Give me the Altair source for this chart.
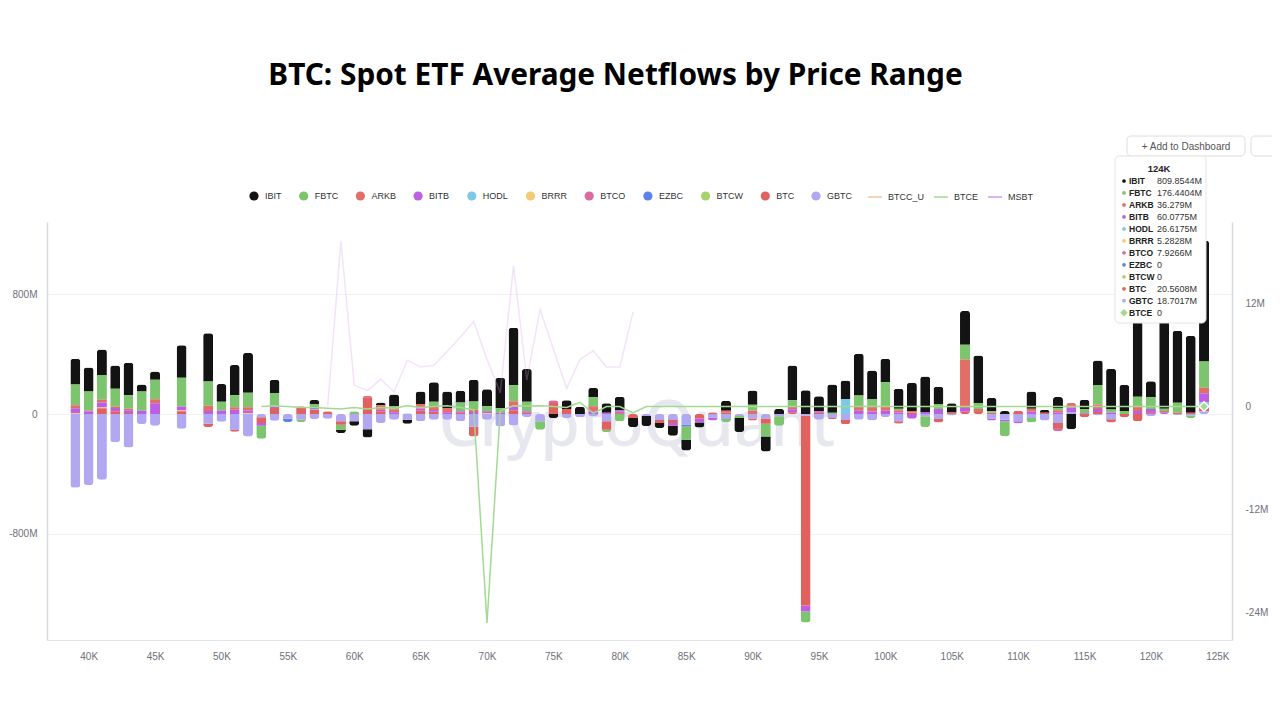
import altair as alt
import pandas as pd

# ---------------- data (values in millions USD, price bins in K) ----------------
PRICES = list(range(39, 125))

SERIES = ["IBIT", "FBTC", "ARKB", "BITB", "HODL", "BRRR", "BTCO", "EZBC", "BTCW", "BTC", "GBTC"]
COLORS = ["#131313", "#7cc46d", "#e26f67", "#bd5fe3", "#7cc8e6", "#f1cc72",
          "#da6b9e", "#5a84ec", "#a7d36f", "#e0625f", "#b2a8f2"]

IBIT = [173, 161, 170, 155, 218, 47, 56, 0, 217, 0,
        323, 119, 202, 266, 0, 90, 0, 0, 27, 0,
        -22, -29, -56, 20, 78, -27, 83, 130, 111, 78,
        146, 114, 203, 385, 219, 0, -27, 58, 48, 63,
        65, 90, -60, -67, -34, -67, -72, -34, 0, 67,
        -94, 96, -101, 34, 233, 159, 101, 190, 123, 280,
        190, 157, 134, 190, 242, 114, 63, 226, 318, 90,
        20, 0, 116, 20, 74, -101, 63, 163, 273, 175,
        650, 108, 770, 482, 515, 809.8544]
FBTC = [139, 128, 166, 121, 90, 128, 130, 0, 193, 0,
        161, 58, 81, 97, -87, 87, 0, -16, 22, 0,
        -34, 18, 0, 0, 20, 0, 0, 31, 0, 60,
        55, 34, 31, 107, 65, -56, 0, 0, 0, 60,
        -16, -49, 0, 0, 0, 0, -90, 0, 0, -20,
        -13, 40, -85, -63, 45, -74, 0, 8, 0, 72,
        54, 166, 10, 0, -72, 34, 0, 99, 40, 10,
        -101, 0, -29, 0, 15, 0, 27, 132, 20, 20,
        67, 78, 15, 67, -16, 176.4404]
ARKB = [20, 5, 18, 9, 11, 0, 27, 0, 0, 0,
        36, 0, 16, 22, 0, 0, 0, 0, 0, 0,
        0, 0, 0, 30, 20, 0, 30, 25, 28, 0,
        15, 0, 0, 35, 0, 0, 0, 0, 0, 34,
        0, 0, 0, 0, 0, 0, 0, 0, 0, 12,
        0, 22, 0, 0, 15, 0, 0, 0, 0, 30,
        30, 25, 15, 10, 0, 0, 10, 325, 20, 8,
        0, 0, 20, 0, 15, 30, 0, 30, 0, 0,
        29, 0, 10, 8, 0, 36.279]
BITB = [31, 18, 34, 22, 18, 22, 72, 0, 27, 0,
        20, 24, 29, 18, -18, 13, 0, 0, 11, 0,
        0, 0, 0, 10, 12, 0, 15, 12, 12, 10,
        14, 12, 8, 25, 10, 0, 0, 0, 0, 18,
        8, 10, 0, 0, 0, -18, 0, -26, -18, 0,
        0, 0, 0, 0, 20, -40, 10, 0, 0, 22,
        17, 22, 10, -31, 10, 34, 0, 25, 0, -13,
        -10, -14, 15, 0, 10, 30, 5, 20, 10, 0,
        20, 20, 10, 0, 0, 60.0775]
BTC = [0, 0, 38, 18, 7, 0, 0, 0, 18, 0,
       -22, 0, -13, 0, -38, 40, 0, 52, 29, 18,
       -22, 0, 112, 18, 0, 0, 22, 15, 0, 8,
       -67, 0, 0, 25, 8, 0, 74, 34, 0, 0,
       -56, 0, -27, 0, -20, -20, 0, -30, 12, 10,
       0, -14, -35, 0, 12, -1270, 8, -8, -29, 0,
       0, 0, -16, 10, 0, -22, 0, 15, 14, 0,
       0, 22, 0, 8, -34, 0, -22, 13, -21, -22,
       -49, 0, 0, 0, 8, 20.5608]
GBTC = [-493, -475, -440, -188, -224, -67, -79, 0, -99, 0,
        -65, -52, -106, -150, -22, -45, -31, -38, -34, -31,
        -49, -49, -101, -60, -38, -38, -49, -38, -38, -49,
        -83, -38, -83, -76, -20, -49, 0, -27, -22, -16,
        -49, 0, 0, -13, -40, -40, -72, 0, -25, -34,
        -13, -30, -30, -15, 0, -11, -38, -27, -40, -38,
        -43, -20, -49, 0, -15, -34, -10, 0, 0, -30,
        -38, -49, -27, -43, -60, 14, 0, -10, -35, 0,
        0, -15, 0, -8, -10, 18.7017]
# sparse series: {price bin: value}
HODL = {57: 5, 64: 5, 97: 101, 124: 26.6175}
BRRR = {39: 7, 41: 6, 47: 5, 52: 6, 70: 6, 124: 5.2828}
BTCO = {61: 10, 75: 18, 80: 15, 113: -22, 120: 14, 124: 7.9266}
EZBC = {55: -22, 85: -10}
BTCW = {}

# line series (right axis, millions)
LINE_NAMES = ["BTCC_U", "BTCE", "MSBT"]
LINE_COLORS = ["#f5c49b", "#a3d993", "#d49ae9"]
BTCE_PRICES = list(range(53, 125))
BTCE = [0, 0.05, 0, -0.1, -0.1, -0.2, -0.3, -0.1, -0.3, -0.1,
        -0.2, 0.1, -0.1, 0, 0.1, -0.1, -0.4, -25.2, -0.5, 0.1,
        0.05, 0.1, 0, -0.1, 0.5, -0.8, 0, 0, -0.75, 0,
        0, 0, 0, 0, 0, 0, 0, 0, 0, 0,
        0, 0, 0, 0, 0, 0, 0, 0, 0, 0,
        0, 0, 0, 0, 0, 0, 0, 0, 0, 0,
        0, 0, 0, 0, 0, 0, 0, 0, 0, 0,
        0, 0]
MSBT_PRICES = list(range(58, 82))
MSBT = [0.0, 19.3, 2.5, 1.85, 3.2, 1.7, 5.4, 4.6, 4.8, 6.4, 8.1, 9.9,
        5.5, 1.6, 16.4, 3.1, 11.3, 6.7, 2.1, 5.5, 6.5, 4.6, 4.6, 11.0]

TIP_LABEL = "124K"
TIP_TEXT = ["809.8544M", "176.4404M", "36.279M", "60.0775M", "26.6175M", "5.2828M",
            "7.9266M", "0", "0", "20.5608M", "18.7017M", "0"]

FONT = "Liberation Sans"
TITLE_FONT = "Noto Sans"

# ---------------- tables ----------------
rows = []
dense = {"IBIT": IBIT, "FBTC": FBTC, "ARKB": ARKB, "BITB": BITB, "BTC": BTC, "GBTC": GBTC}
sparse = {"HODL": HODL, "BRRR": BRRR, "BTCO": BTCO, "EZBC": EZBC, "BTCW": BTCW}
for i, s in enumerate(SERIES):
    ordv = len(SERIES) - 1 - i
    if s in dense:
        pairs = zip(PRICES, dense[s])
    else:
        pairs = sparse[s].items()
    for p, v in pairs:
        if v != 0:
            rows.append({"price": p, "series": s, "value": v, "ord": ordv})
bar_df = pd.DataFrame(rows)

line_rows = [{"price": p, "series": "BTCE", "val": v} for p, v in zip(BTCE_PRICES, BTCE)]
line_rows += [{"price": p, "series": "MSBT", "val": v} for p, v in zip(MSBT_PRICES, MSBT)]
line_df = pd.DataFrame(line_rows)
pt_df = pd.DataFrame([{"price": BTCE_PRICES[-1], "val": BTCE[-1]}])

tip_names = SERIES + ["BTCE"]
tip_cols = COLORS + [LINE_COLORS[1]]
tip_df = pd.DataFrame({
    "row": list(range(len(tip_names))),
    "name": tip_names,
    "txt": TIP_TEXT,
    "col": tip_cols,
    "shp": ["circle"] * len(SERIES) + ["diamond"],
    "sz": [14] * len(SERIES) + [55],
})

# ---------------- scales / axes ----------------
x_enc = alt.X("price:Q",
              scale=alt.Scale(domain=[37.24, 125.73], nice=False, zero=False),
              axis=alt.Axis(values=list(range(40, 126, 5)), labelExpr="datum.value + 'K'",
                            title=None, ticks=False, grid=False, domainColor="#e3e3ea",
                            labelColor="#6e7079", labelFontSize=10, labelFont=FONT,
                            labelPadding=11))
RIGHT_DOMAIN = [-27.2, 21.5]

watermark = alt.Chart(pd.DataFrame({"t": ["CryptoQuant"]})).mark_text(
    fontSize=64, font=TITLE_FONT, color="#e7e7ef", fontWeight=500
).encode(text="t:N", x=alt.value(590), y=alt.value(205))

bars = alt.Chart(bar_df).mark_bar(size=10, cornerRadius=3).encode(
    x=x_enc,
    y=alt.Y("value:Q", stack="zero",
            scale=alt.Scale(domain=[-1512, 1285], nice=False, zero=False),
            axis=alt.Axis(values=[-800, 0, 800],
                          labelExpr="datum.value == 0 ? '0' : datum.value + 'M'",
                          title=None, ticks=False, grid=True, gridColor="#f2f2f6",
                          domainColor="#d9d9e4", domainWidth=1.5, labelColor="#6e7079",
                          labelFontSize=10, labelFont=FONT, labelPadding=10)),
    color=alt.Color("series:N", scale=alt.Scale(domain=SERIES, range=COLORS),
                    legend=alt.Legend(title=None, orient="none", legendX=202, legendY=-31,
                                      direction="horizontal", symbolType="circle",
                                      symbolSize=85, symbolStrokeWidth=0, labelFontSize=9,
                                      labelFont=FONT, labelColor="#333333", labelOffset=6,
                                      columnPadding=16.7, padding=0)),
    order=alt.Order("ord:Q", sort="ascending"),
)

lines = alt.Chart(line_df).mark_line(strokeWidth=1.5).encode(
    x=x_enc,
    y=alt.Y("val:Q", scale=alt.Scale(domain=RIGHT_DOMAIN, nice=False, zero=False),
            axis=alt.Axis(orient="right", values=[-24, -12, 0, 12],
                          labelExpr="datum.value == 0 ? '0' : datum.value + 'M'",
                          title=None, ticks=False, grid=False, domainColor="#d9d9e4",
                          domainWidth=1.5, labelColor="#6e7079", labelFontSize=10,
                          labelFont=FONT, labelPadding=13)),
    stroke=alt.Stroke("series:N", scale=alt.Scale(domain=LINE_NAMES, range=LINE_COLORS),
                      legend=alt.Legend(title=None, orient="none", legendX=820, legendY=-33,
                                        direction="horizontal", symbolType="stroke",
                                        symbolSize=196, symbolStrokeWidth=1.5,
                                        symbolOpacity=1, labelFontSize=9, labelFont=FONT,
                                        labelColor="#333333", labelOffset=5,
                                        columnPadding=6, padding=0)),
    strokeOpacity=alt.condition("datum.series == 'MSBT'", alt.value(0.28), alt.value(1)),
)

hover_pt = alt.Chart(pt_df).mark_point(shape="diamond", filled=True, size=90,
                                       color=LINE_COLORS[1], stroke="white",
                                       strokeWidth=1.5, opacity=1).encode(
    x=x_enc,
    y=alt.Y("val:Q", scale=alt.Scale(domain=RIGHT_DOMAIN, nice=False, zero=False), axis=None),
)

# dashboard buttons (partly hidden by the tooltip)
btn = alt.Chart(pd.DataFrame({"a": [0]})).mark_rect(
    fill="white", stroke="#dcdcdc", cornerRadius=4).encode(
    x=alt.value(1080), x2=alt.value(1198), y=alt.value(-86), y2=alt.value(-66))
btn2 = alt.Chart(pd.DataFrame({"a": [0]})).mark_rect(
    fill="white", stroke="#dcdcdc", cornerRadius=4).encode(
    x=alt.value(1204), x2=alt.value(1228), y=alt.value(-86), y2=alt.value(-66))
btn_txt = alt.Chart(pd.DataFrame({"t": ["+  Add to Dashboard"]})).mark_text(
    fontSize=10, font=FONT, color="#555555").encode(
    text="t:N", x=alt.value(1139), y=alt.value(-75))

# tooltip
tip_box = alt.Chart(pd.DataFrame({"a": [0]})).mark_rect(
    fill="white", stroke="#e4e4e4", cornerRadius=4).encode(
    x=alt.value(1068), x2=alt.value(1159), y=alt.value(-66), y2=alt.value(101))
tip_head = alt.Chart(pd.DataFrame({"t": [TIP_LABEL]})).mark_text(
    fontSize=9.5, font=FONT, fontWeight="bold", color="#222222").encode(
    text="t:N", x=alt.value(1112), y=alt.value(-53))
row_y = alt.Y("row:Q", scale=alt.Scale(domain=[0, 11], range=[-41, 90.7]), axis=None)
tip_dot = alt.Chart(tip_df).mark_point(filled=True, opacity=1).encode(
    x=alt.value(1077), y=row_y,
    color=alt.Color("col:N", scale=None),
    shape=alt.Shape("shp:N", scale=None),
    size=alt.Size("sz:Q", scale=None))
tip_name = alt.Chart(tip_df).mark_text(
    align="left", fontSize=8.5, font=FONT, fontWeight="bold", color="#222222").encode(
    text="name:N", x=alt.value(1082), y=row_y)
tip_val = alt.Chart(tip_df).mark_text(
    align="left", fontSize=9, font=FONT, color="#333333").encode(
    text="txt:N", x=alt.value(1110), y=row_y)

chart = alt.layer(
    watermark, bars, lines, hover_pt, btn, btn2, btn_txt, tip_box, tip_head, tip_dot,
    tip_name, tip_val
).resolve_scale(
    y="independent"
).properties(
    width=1185, height=418,
    autosize=alt.AutoSizeParams(type="none"),
    padding={"left": 39, "top": 214, "right": 40, "bottom": 70},
    title=alt.TitleParams(
        "BTC: Spot ETF Average Netflows by Price Range",
        fontSize=29.8, font=TITLE_FONT, fontWeight="bold", color="#000000",
        anchor="middle", frame="group", dx=-24, offset=45),
).configure_view(stroke=None)

chart.save("out.html", embed_options={"renderer": "svg", "actions": False})
